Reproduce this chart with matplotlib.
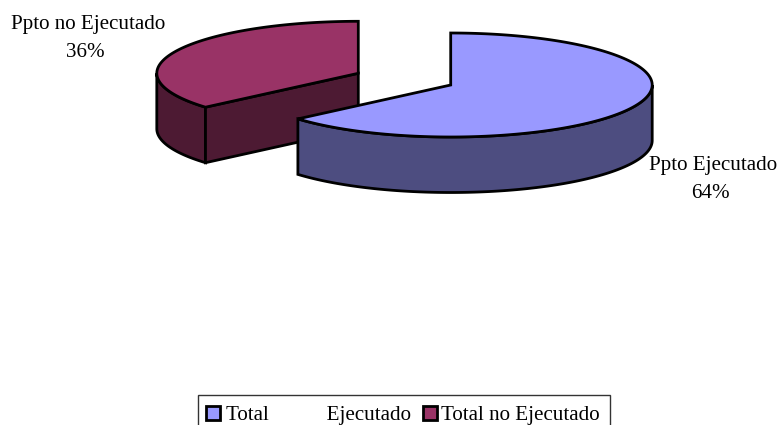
import numpy as np
import matplotlib
matplotlib.use("Agg")
import matplotlib.pyplot as plt
from matplotlib.patches import Polygon, Rectangle

plt.rcParams['font.family'] = ['Liberation Serif', 'DejaVu Serif']

# Data
slice_labels = ["Ppto Ejecutado", "Ppto no Ejecutado"]
slice_values = [63.7, 36.3]
legend_labels = ["Total           Ejecutado", "Total no Ejecutado"]
top_colors = ["#9999FF", "#993366"]
side_colors = ["#4D4D80", "#4D1A33"]

fig = plt.figure(figsize=(7.79, 4.25), dpi=100, facecolor="white")
ax = fig.add_axes([0, 0, 1, 1])
ax.set_xlim(0, 779)
ax.set_ylim(425, 0)
ax.axis("off")

RX, RY, DEPTH = 201.5, 52.0, 55.5
LW = 2.0
EDGE = "black"
FS = 15.1


def arc(cx, cy, a0, a1, dy=0.0, n=160):
    t = np.radians(np.linspace(a0, a1, n))
    return np.column_stack([cx + RX * np.cos(t), cy - RY * np.sin(t) + dy])


def poly(pts, color, z):
    ax.add_patch(Polygon(pts, closed=True, facecolor=color, edgecolor=EDGE,
                         linewidth=LW, joinstyle="miter", zorder=z))


total = sum(slice_values)
sweep_blue = 360 * slice_values[0] / total
tip = 90 - sweep_blue  # clockwise from 12 o'clock

# Second slice (pulled out up-left)
cx, cy = 358.3, 73.3
red_tip = tip + 360
poly(np.vstack([arc(cx, cy, 180, red_tip),
                arc(cx, cy, red_tip, 180, DEPTH)]), side_colors[1], 1)
poly(np.array([[cx, cy], [cx + RX * np.cos(np.radians(red_tip)), cy - RY * np.sin(np.radians(red_tip))],
               [cx + RX * np.cos(np.radians(red_tip)), cy - RY * np.sin(np.radians(red_tip)) + DEPTH],
               [cx, cy + DEPTH]]), side_colors[1], 1)
poly(np.vstack([[[cx, cy]], arc(cx, cy, 90, red_tip)]), top_colors[1], 2)

# First slice
cx, cy = 450.7, 85.0
poly(np.vstack([arc(cx, cy, tip, 0), arc(cx, cy, 0, tip, DEPTH)]), side_colors[0], 3)
poly(np.vstack([[[cx, cy]], arc(cx, cy, 90, tip)]), top_colors[0], 4)

# Data labels
pct = [f"{round(100 * v / total)}%" for v in slice_values]
ax.text(713.5, 165.5, slice_labels[0], ha="center", va="center", fontsize=FS, color="black", zorder=5)
ax.text(710.5, 193.5, pct[0], ha="center", va="center", fontsize=FS, color="black", zorder=5)
ax.text(88, 24, slice_labels[1], ha="center", va="center", fontsize=FS, color="black", zorder=5)
ax.text(85.5, 52, pct[1], ha="center", va="center", fontsize=FS, color="black", zorder=5)

# Legend, cut by the bottom of the picture as in the reference
ax.add_patch(Rectangle((198.5, 395), 411.5, 40, facecolor="white", edgecolor="#333333",
                       linewidth=1.0, zorder=6))
for x_sw, x_txt, lab, col in zip([206.5, 423], [226, 441.5], legend_labels, top_colors):
    ax.add_patch(Rectangle((x_sw, 405.5), 14, 14, facecolor=col, edgecolor="black",
                           linewidth=2.0, zorder=7))
    ax.text(x_txt, 420, lab, ha="left", va="baseline", fontsize=FS, color="black", zorder=7)

fig.savefig("out.png", dpi=100, facecolor="white")
